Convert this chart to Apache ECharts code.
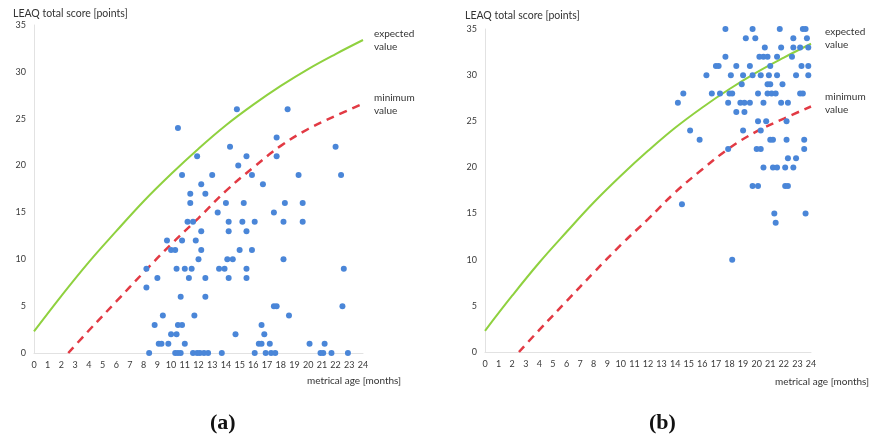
<!DOCTYPE html>
<html><head><meta charset="utf-8">
<script src="https://cdn.jsdelivr.net/npm/echarts@6/dist/echarts.min.js"></script>
<style>html,body{margin:0;padding:0;background:#fff}#c{width:878px;height:438px}</style>
</head><body><div id="c"></div>
<script>
// reference curves, same for both panels
const curveMonths = [0,2,4,6,8,10,12,14,16,18,20,22,24];
const expectedValues = [2.3,6.1,9.7,13.0,16.2,19.1,21.8,24.3,26.5,28.5,30.3,31.9,33.4];
const minimumMonths = [2.5,4,6,8,10,12,14,16,18,20,22,24];
const minimumValues = [0,2.4,5.5,8.6,11.6,14.4,17.3,19.8,22.1,23.9,25.3,26.6];

// panel (a): metrical age [months] and LEAQ score
const ageA = [14.8,18.5, 10.5, 17.7, 14.3,22.0, 11.9,15.5,17.7, 14.9,
  10.8,13.0,15.9,19.3,22.4, 12.2,16.7, 11.4,12.5, 11.4,14.0,15.3,18.3,19.6,
  13.4,17.5, 11.2,11.6,14.2,15.2,16.1,18.2,19.6, 12.2,14.2,15.5, 9.7,10.8,11.8,
  10.0,10.3,12.2,15.0,15.9, 12.0,14.1,14.5,18.2, 8.2,10.4,11.0,11.5,13.5,13.9,15.5,22.6,
  9.0,11.3,12.5,14.2,15.5, 8.2, 10.7,12.5, 17.5,17.7,22.5, 9.4,11.7,18.6,
  8.8,10.5,10.8,16.6, 10.0,10.4,14.7,16.8, 9.1,9.3,9.8,11.0,16.4,16.6,17.2,20.1,21.2,
  8.4,10.3,10.5,10.7,11.6,11.9,12.1,12.4,12.7,13.7,16.1,16.9,17.3,17.6,20.9,21.1,21.7,22.9];
const scoreA = [26,26, 24, 23, 22,22, 21,21,21, 20,
  19,19,19,19,19, 18,18, 17,17, 16,16,16,16,16,
  15,15, 14,14,14,14,14,14,14, 13,13,13, 12,12,12,
  11,11,11,11,11, 10,10,10,10, 9,9,9,9,9,9,9,9,
  8,8,8,8,8, 7, 6,6, 5,5,5, 4,4,4,
  3,3,3,3, 2,2,2,2, 1,1,1,1,1,1,1,1,1,
  0,0,0,0,0,0,0,0,0,0,0,0,0,0,0,0,0,0];

// panel (b)
const ageB = [17.7,19.7,21.7,23.4,23.6, 19.2,19.9,22.7,23.7, 20.6,21.8,22.7,23.2,23.8,
  17.7,20.2,20.5,20.8,21.5,22.6, 17.0,17.2,18.5,19.5,21.0,23.3,23.8,
  16.3,18.1,19.0,19.7,20.3,20.9,21.5,22.9,23.8, 18.9,20.8,21.0,21.9,
  14.6,16.7,17.3,18.0,18.2,20.1,20.8,21.1,21.4,23.2,23.4,
  14.2,17.9,18.8,19.1,19.5,20.5,21.8,22.3, 18.5,19.1, 20.1,20.7,22.2, 15.1,19.0,20.3,
  15.8,21.0,21.2,22.2,23.5, 17.9,20.0,20.3,23.5, 22.3,22.9, 20.5,21.2,21.5,22.1,22.7,
  19.7,20.1,22.1,22.3, 14.5, 21.3,23.6, 21.4, 18.2];
const scoreB = [35,35,35,35,35, 34,34,34,34, 33,33,33,33,33,
  32,32,32,32,32,32, 31,31,31,31,31,31,31,
  30,30,30,30,30,30,30,30,30, 29,29,29,29,
  28,28,28,28,28,28,28,28,28,28,28,
  27,27,27,27,27,27,27,27, 26,26, 25,25,25, 24,24,24,
  23,23,23,23,23, 22,22,22,22, 21,21, 20,20,20,20,20,
  18,18,18,18, 16, 15,15, 14, 10];

const yMax = 35, yStep = 5, xMax = 24, xStep = 1;

const pairs = (xs, ys) => xs.map((x, i) => [x, ys[i]]);
const font = 'Lato, "Open Sans", sans-serif';

function xAxis(gi) {
  return { type: 'value', gridIndex: gi, min: 0, max: xMax, interval: xStep,
    axisLine: { show: true, lineStyle: { color: '#e2e2e2', width: 1 } },
    axisTick: { show: false }, splitLine: { show: false },
    axisLabel: { color: '#3a3a3a', fontSize: 9, fontFamily: font, margin: 8 } };
}
function yAxis(gi) {
  return { type: 'value', gridIndex: gi, min: 0, max: yMax, interval: yStep,
    axisLine: { show: true, lineStyle: { color: '#e2e2e2', width: 1 } },
    axisTick: { show: false }, splitLine: { show: false },
    axisLabel: { color: '#3a3a3a', fontSize: 9, fontFamily: font, margin: 8 } };
}
function series(gi, ages, scores) {
  return [
    { type: 'line', xAxisIndex: gi, yAxisIndex: gi, data: pairs(curveMonths, expectedValues),
      smooth: 0.4, showSymbol: false, lineStyle: { color: '#8fd13f', width: 2 }, z: 2 },
    { type: 'line', xAxisIndex: gi, yAxisIndex: gi, data: pairs(minimumMonths, minimumValues),
      smooth: 0.4, showSymbol: false, lineStyle: { color: '#e23a44', width: 2.5, type: [8, 6] }, z: 2 },
    { type: 'scatter', xAxisIndex: gi, yAxisIndex: gi, data: pairs(ages, scores),
      symbolSize: 6, itemStyle: { color: '#4a86d8', opacity: 1 }, z: 3 }
  ];
}
function txt(left, top, text, extra) {
  return { type: 'text', left, top, style: Object.assign({ text, fill: '#333', font: '10px ' + font, lineHeight: 13 }, extra || {}) };
}

const chart = echarts.init(document.getElementById('c'), null, { renderer: 'canvas' });
chart.setOption({
  animation: false,
  backgroundColor: '#fff',
  grid: [
    { left: 34, top: 25, width: 329, height: 328 },
    { left: 485, top: 29, width: 326, height: 323 }
  ],
  xAxis: [xAxis(0), xAxis(1)],
  yAxis: [yAxis(0), yAxis(1)],
  series: [...series(0, ageA, scoreA), ...series(1, ageB, scoreB)],
  graphic: [
    txt(13, 7, 'LEAQ total score [points]', { font: '10.5px ' + font }),
    txt(465, 9, 'LEAQ total score [points]', { font: '10.5px ' + font }),
    txt(374, 27, 'expected\nvalue'),
    txt(374, 91, 'minimum\nvalue'),
    txt(825, 25, 'expected\nvalue'),
    txt(825, 90, 'minimum\nvalue'),
    txt(307, 374, 'metrical age [months]'),
    txt(775, 375, 'metrical age [months]'),
    txt(210, 412, '(a)', { font: 'bold 22px "Liberation Serif", "DejaVu Serif", serif', fill: '#111' }),
    txt(649, 412, '(b)', { font: 'bold 22px "Liberation Serif", "DejaVu Serif", serif', fill: '#111' })
  ]
});
</script></body></html>
